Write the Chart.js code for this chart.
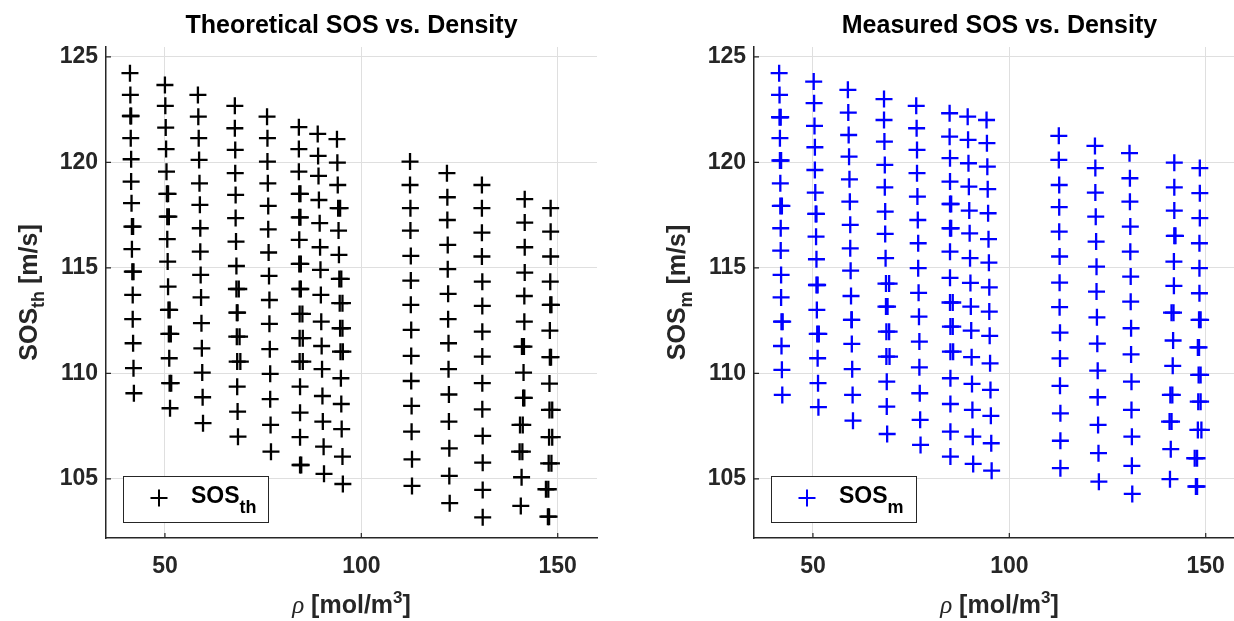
<!DOCTYPE html>
<html><head><meta charset="utf-8">
<script src="https://cdn.jsdelivr.net/npm/chart.js@4.4.0/dist/chart.umd.min.js"></script>
<style>
html,body{margin:0;padding:0;background:#fff;overflow:hidden;width:1234px;height:621px;position:relative;}
#w1{position:absolute;left:0;top:0;width:617px;height:621px;}
#w2{position:absolute;left:617px;top:0;width:648px;height:621px;}
</style></head><body>
<div id="w1"><canvas id="c1" width="617" height="621"></canvas></div>
<div id="w2"><canvas id="c2" width="648" height="621"></canvas></div>
<script>
// ---------- data ----------
const xTicks = [50, 100, 150];
const yTicks = [105, 110, 115, 120, 125];

const rhoTh = [
 [41.1,41.2,41.2,41.3,41.4,41.4,41.5,41.6,41.6,41.7,41.8,41.8,41.9,42.0,42.1],
 [50.0,50.1,50.2,50.3,50.4,50.5,50.6,50.6,50.7,50.8,50.9,51.0,51.1,51.2,51.3],
 [58.4,58.5,58.6,58.7,58.8,58.9,59.0,59.0,59.1,59.2,59.3,59.4,59.5,59.6,59.7],
 [67.8,67.8,67.9,67.9,68.0,68.0,68.1,68.2,68.2,68.3,68.3,68.4,68.4,68.5,68.6],
 [76.0,76.1,76.1,76.2,76.3,76.3,76.4,76.5,76.6,76.6,76.7,76.8,76.8,76.9,77.0],
 [84.1,84.1,84.1,84.2,84.2,84.2,84.2,84.3,84.3,84.3,84.3,84.4,84.4,84.4,84.4],
 [88.9,89.0,89.1,89.2,89.4,89.5,89.6,89.7,89.8,89.9,90.0,90.1,90.2,90.4,90.5],
 [93.8,93.9,94.0,94.1,94.2,94.3,94.4,94.5,94.6,94.7,94.8,94.9,95.0,95.2,95.3],
 [112.4,112.4,112.5,112.5,112.6,112.6,112.6,112.7,112.7,112.7,112.8,112.8,112.9,112.9],
 [121.8,121.9,121.9,122.0,122.0,122.1,122.1,122.2,122.2,122.3,122.3,122.4,122.4,122.5],
 [130.7,130.7,130.7,130.7,130.8,130.8,130.8,130.8,130.8,130.8,130.9,130.9,130.9,130.9],
 [141.6,141.6,141.6,141.6,141.5,141.5,141.4,141.3,141.2,141.1,141.0,140.8,140.6],
 [148.2,148.2,148.2,148.1,148.1,148.0,148.0,147.9,147.9,147.8,147.7,147.6,147.5]
];
const sosTh = [
 [124.23,123.20,122.20,121.15,120.15,119.09,118.07,116.96,115.89,114.82,113.72,112.57,111.43,110.25,109.06],
 [123.67,122.68,121.65,120.63,119.56,118.51,117.43,116.36,115.30,114.11,113.01,111.87,110.72,109.54,108.35],
 [123.20,122.17,121.15,120.12,119.01,117.99,116.88,115.77,114.67,113.60,112.38,111.19,110.04,108.87,107.64],
 [122.68,121.62,120.59,119.49,118.46,117.36,116.25,115.09,114.00,112.88,111.74,110.56,109.37,108.19,107.00],
 [122.17,121.15,120.04,119.01,117.94,116.83,115.73,114.62,113.48,112.35,111.15,109.98,108.78,107.56,106.29],
 [121.67,120.63,119.56,118.51,117.40,116.33,115.19,114.00,112.82,111.67,110.56,109.37,108.14,106.98,105.66],
 [121.35,120.31,119.36,118.22,117.12,115.98,114.91,113.72,112.45,111.30,110.20,108.93,107.72,106.53,105.24],
 [121.10,119.99,118.93,117.83,116.77,115.62,114.48,113.33,112.14,111.03,109.77,108.55,107.36,106.06,104.76],
 [120.04,118.93,117.83,116.77,115.57,114.40,113.25,112.06,110.83,109.64,108.46,107.24,105.93,104.67],
 [119.49,118.35,117.27,116.09,114.94,113.77,112.57,111.43,110.20,109.00,107.72,106.45,105.14,103.85],
 [118.93,117.83,116.67,115.54,114.35,113.20,111.98,110.80,109.54,108.30,107.04,105.77,104.48,103.18],
 [118.26,117.15,115.98,114.78,113.67,112.45,111.27,110.04,108.84,107.56,106.29,105.08,103.72],
 [117.83,116.72,115.54,114.35,113.25,112.03,110.77,109.52,108.27,106.98,105.74,104.51,103.21]
];
// repeated (overlapping) theoretical points that make some markers look doubled
const rhoTh2 = [41.4,41.9,42.0,50.8,51.0,51.2,51.5,51.6,68.8,68.5,69.0,69.2,84.5,84.5,84.6,84.6,85.0,85.1,85.1,84.7,94.6,94.9,95.2,95.2,95.3,140.9,141.5,140.4,140.3,148.6,148.6,148.4,147.0,147.8,148.4,148.3];
const sosTh2 = [122.20,116.96,114.82,118.51,117.43,113.01,111.87,109.54,114.00,112.88,111.74,110.56,118.51,117.40,115.19,114.00,112.82,111.67,110.56,105.66,117.83,114.48,113.33,112.14,111.03,111.27,108.84,107.56,106.29,108.27,106.98,105.74,104.51,103.21,113.25,110.77];

const rhoM = [
 [41.4,41.5,41.5,41.6,41.6,41.7,41.7,41.8,41.8,41.9,41.9,42.0,42.0,42.1,42.2],
 [50.2,50.3,50.4,50.5,50.5,50.6,50.7,50.8,50.9,50.9,51.0,51.1,51.2,51.3,51.4],
 [58.9,59.0,59.1,59.2,59.3,59.4,59.5,59.5,59.6,59.7,59.8,59.9,60.0,60.1,60.2],
 [68.1,68.1,68.2,68.3,68.3,68.4,68.4,68.5,68.6,68.6,68.7,68.7,68.8,68.8,68.9],
 [76.3,76.4,76.5,76.5,76.6,76.7,76.8,76.8,76.9,77.0,77.1,77.1,77.2,77.3,77.4],
 [84.8,84.8,84.9,84.9,84.9,84.9,84.9,84.9,84.9,85.0,85.0,85.0,85.0,85.0,85.0],
 [89.4,89.5,89.6,89.7,89.8,89.9,90.0,90.1,90.2,90.3,90.4,90.5,90.6,90.7,90.8],
 [94.2,94.3,94.4,94.5,94.6,94.7,94.8,94.9,94.9,95.0,95.1,95.2,95.3,95.4,95.5],
 [112.6,112.6,112.7,112.7,112.7,112.8,112.8,112.8,112.9,112.9,112.9,113.0,113.0,113.0],
 [121.8,121.9,121.9,122.0,122.1,122.2,122.2,122.3,122.4,122.5,122.5,122.6,122.7,122.8],
 [130.6,130.7,130.7,130.8,130.8,130.9,130.9,131.0,131.0,131.1,131.1,131.2,131.2,131.3],
 [142.0,142.0,142.0,142.0,141.9,141.9,141.8,141.7,141.6,141.5,141.3,141.1,140.9],
 [148.5,148.5,148.5,148.4,148.4,148.4,148.3,148.3,148.2,148.1,148.0,147.8,147.5]
];
const sosM = [
 [124.23,123.20,122.14,121.15,120.09,119.01,117.94,116.88,115.82,114.67,113.60,112.45,111.30,110.17,108.98],
 [123.83,122.81,121.73,120.72,119.64,118.57,117.56,116.48,115.41,114.19,113.01,111.87,110.72,109.54,108.40],
 [123.44,122.36,121.30,120.27,119.20,118.14,117.04,115.93,114.87,113.67,112.54,111.40,110.20,108.98,107.76],
 [123.00,122.01,120.99,119.88,118.82,117.67,116.61,115.46,114.26,113.17,111.98,110.80,109.61,108.43,107.13],
 [122.68,121.62,120.59,119.49,118.38,117.27,116.17,114.99,113.82,112.69,111.51,110.29,109.06,107.80,106.61],
 [122.33,121.22,120.20,119.09,118.03,116.88,115.77,114.53,113.36,112.22,111.03,109.77,108.55,107.24,106.06],
 [122.17,121.07,119.96,118.85,117.72,116.64,115.46,114.29,113.17,112.03,110.77,109.50,108.27,107.00,105.71],
 [122.01,120.91,119.80,118.73,117.59,116.36,115.25,114.08,112.93,111.78,110.48,109.22,107.99,106.69,105.39],
 [121.26,120.12,118.93,117.88,116.72,115.54,114.30,113.14,111.93,110.71,109.41,108.11,106.81,105.51],
 [120.78,119.73,118.57,117.43,116.25,115.06,113.88,112.66,111.41,110.13,108.87,107.56,106.22,104.87],
 [120.44,119.25,118.14,116.96,115.77,114.59,113.40,112.14,110.90,109.61,108.27,107.00,105.62,104.29],
 [119.99,118.82,117.72,116.52,115.30,114.15,112.88,111.56,110.36,108.98,107.72,106.41,104.99],
 [119.73,118.54,117.36,116.17,114.99,113.80,112.54,111.23,109.93,108.66,107.32,105.98,104.64]
];
// repeated (overlapping) measured points
const rhoM2 = [41.8,41.9,42.1,42.3,50.9,51.2,51.5,59.9,69.4,69.0,69.4,69.5,85.2,85.2,85.6,85.6,85.7,141.3,141.0,140.8,142.3,148.0,148.7,148.7,148.9,147.2,147.8,148.7];
const sosM2 = [122.14,120.09,117.94,112.45,117.56,114.19,111.87,112.54,114.26,113.17,111.98,110.80,118.03,116.88,113.36,112.22,111.03,112.88,108.98,107.72,116.52,111.23,109.93,108.66,107.32,105.98,104.64,112.54];

// ---------- styling ----------
const SANS = '"Liberation Sans", Arial, Helvetica, sans-serif';
const SERIF = '"Liberation Serif", "DejaVu Serif", serif';
const AX = '#262626';
const GRID = '#dfdfdf';

function toPoints(rhoCols, sosCols, rho2, sos2){
  const pts = [];
  rhoCols.forEach((col, i) => col.forEach((r, j) => pts.push({x: r, y: sosCols[i][j]})));
  rho2.forEach((r, k) => pts.push({x: r, y: sos2[k]}));
  return pts;
}

function drawRich(ctx, parts, x, y, align){
  let w = 0;
  parts.forEach(p => { ctx.font = p.font; w += ctx.measureText(p.t).width; });
  let cx = align === 'center' ? x - w/2 : x;
  ctx.textAlign = 'left'; ctx.textBaseline = 'alphabetic';
  parts.forEach(p => {
    ctx.font = p.font; ctx.fillStyle = p.color || AX;
    ctx.fillText(p.t, cx, y + (p.dy || 0));
    cx += ctx.measureText(p.t).width;
  });
}

function plus(ctx, x, y, r, color, lw){
  ctx.save(); ctx.strokeStyle = color; ctx.lineWidth = lw;
  ctx.beginPath(); ctx.moveTo(x - r, y); ctx.lineTo(x + r, y);
  ctx.moveTo(x, y - r); ctx.lineTo(x, y + r); ctx.stroke(); ctx.restore();
}

const decoPlugin = {
  id: 'deco',
  afterDraw(chart){
    const d = chart.options.plugins.deco;
    const ctx = chart.ctx, ca = chart.chartArea;
    const cx = (ca.left + ca.right) / 2;
    ctx.save();
    ctx.strokeStyle = AX; ctx.lineWidth = 1.2;
    const xs = chart.scales.x, ys = chart.scales.y;
    ctx.beginPath();
    xTicks.forEach(v => { const px = xs.getPixelForValue(v); ctx.moveTo(px, ca.bottom); ctx.lineTo(px, ca.bottom - 5); });
    yTicks.forEach(v => { const py = ys.getPixelForValue(v); ctx.moveTo(ca.left, py); ctx.lineTo(ca.left + 5, py); });
    ctx.stroke();
    drawRich(ctx, [{t: d.title, font: 'bold 25px ' + SANS, color: '#000'}], cx, 33, 'center');
    drawRich(ctx, [
      {t: 'ρ', font: 'italic 25px ' + SERIF},
      {t: ' [mol/m', font: 'bold 25px ' + SANS},
      {t: '3', font: 'bold 17px ' + SANS, dy: -10},
      {t: ']', font: 'bold 25px ' + SANS}
    ], cx, 613, 'center');
    ctx.save();
    ctx.translate(ca.left - 69, (ca.top + ca.bottom) / 2);
    ctx.rotate(-Math.PI / 2);
    drawRich(ctx, [
      {t: 'SOS', font: 'bold 25px ' + SANS},
      {t: d.sub, font: 'bold 18px ' + SANS, dy: 7},
      {t: ' [m/s]', font: 'bold 25px ' + SANS}
    ], 0, 0, 'center');
    ctx.restore();
    const bx = ca.left + 17, by = 476, bw = 145, bh = 46;
    ctx.fillStyle = '#fff'; ctx.fillRect(bx, by, bw, bh);
    ctx.strokeStyle = AX; ctx.lineWidth = 1; ctx.strokeRect(bx + 0.5, by + 0.5, bw, bh);
    plus(ctx, bx + 36, by + 22, 8.5, d.color, 2);
    drawRich(ctx, [
      {t: 'SOS', font: 'bold 23px ' + SANS, color: '#000'},
      {t: d.sub, font: 'bold 18px ' + SANS, color: '#000', dy: 10}
    ], bx + 68, by + 27, 'left');
    ctx.restore();
  }
};

function makeChart(id, pts, color, title, sub, yAxisW){
  const tickFont = {family: SANS, size: 23, weight: 'bold'};
  return new Chart(document.getElementById(id), {
    type: 'scatter',
    data: { datasets: [{
      label: 'SOS' + sub, data: pts, pointStyle: 'cross', pointRadius: 8.5,
      pointHoverRadius: 8.5, borderColor: color, backgroundColor: color, borderWidth: 2.3, showLine: false
    }]},
    options: {
      responsive: false, animation: false, events: [],
      layout: { padding: { top: 47, right: 20, left: 0, bottom: 0 } },
      plugins: { legend: { display: false }, title: { display: false }, tooltip: { enabled: false },
        deco: { title: title, sub: sub, color: color } },
      scales: {
        x: { type: 'linear', min: 35, max: 160,
          afterBuildTicks: ax => { ax.ticks = xTicks.map(v => ({value: v})); },
          afterFit: ax => { ax.height = 83; },
          grid: { color: GRID, lineWidth: 1, drawTicks: false },
          border: { display: true, color: AX, width: 1.5 },
          ticks: { color: AX, font: tickFont, padding: 15, maxRotation: 0, autoSkip: false }
        },
        y: { type: 'linear', min: 102.2, max: 125.47,
          afterBuildTicks: ax => { ax.ticks = yTicks.map(v => ({value: v})); },
          afterFit: ax => { ax.width = yAxisW; },
          grid: { color: GRID, lineWidth: 1, drawTicks: false },
          border: { display: true, color: AX, width: 1.5 },
          ticks: { color: AX, font: tickFont, padding: 8, autoSkip: false }
        }
      }
    },
    plugins: [decoPlugin]
  });
}

makeChart('c1', toPoints(rhoTh, sosTh, rhoTh2, sosTh2), '#000000', 'Theoretical SOS vs. Density', 'th', 106);
makeChart('c2', toPoints(rhoM, sosM, rhoM2, sosM2), '#0000ff', 'Measured SOS vs. Density', 'm', 137);
</script>
</body></html>
